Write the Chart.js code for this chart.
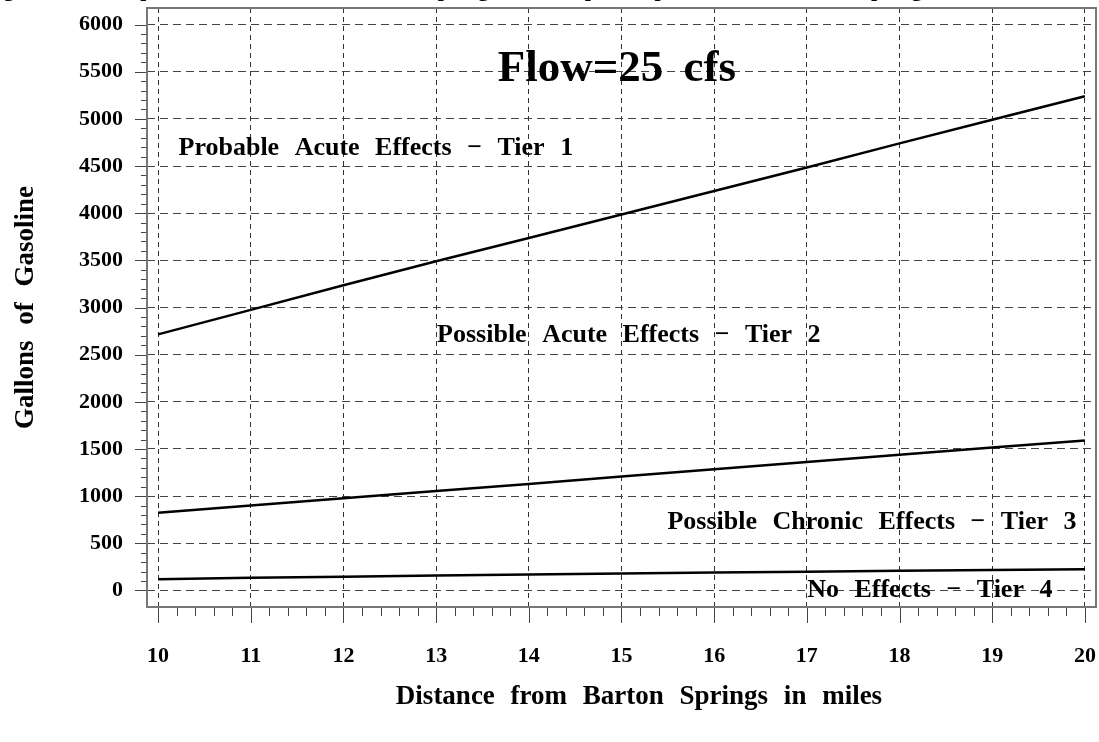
<!DOCTYPE html>
<html>
<head>
<meta charset="utf-8">
<script src="https://cdn.jsdelivr.net/npm/chart.js@4.4.1/dist/chart.umd.min.js"></script>
<style>
  html, body { margin: 0; padding: 0; background: #fff; }
  #wrap { width: 1099px; height: 742px; }
</style>
</head>
<body>
<div id="wrap"><canvas id="chart" width="1099" height="742"></canvas></div>
<script>
// Data
const distances = [10, 11, 12, 13, 14, 15, 16, 17, 18, 19, 20];
const tier1Limit = [2715, 2975, 3235, 3490, 3736, 3985, 4235, 4485, 4740, 4990, 5240];
const tier2Limit = [824, 900, 977, 1054, 1130, 1208, 1286, 1363, 1440, 1515, 1590];
const tier3Limit = [120, 134, 147, 159, 170, 181, 191, 200, 209, 217, 225];
const xTickValues = [10, 11, 12, 13, 14, 15, 16, 17, 18, 19, 20];
const yTickValues = [0, 500, 1000, 1500, 2000, 2500, 3000, 3500, 4000, 4500, 5000, 5500, 6000];
const zoneLabels = [
  "Probable Acute Effects − Tier 1",
  "Possible Acute Effects − Tier 2",
  "Possible Chronic Effects − Tier 3",
  "No Effects − Tier 4"
];
const flowLabel = "Flow=25 cfs";
const xTitle = "Distance from Barton Springs in miles";
const figureTitle = "Figure 3.  Response Distances to Barton Springs from Spills Upstream of Barton Springs";

const SERIF = '"Liberation Serif", "DejaVu Serif", serif';
Chart.defaults.font.family = SERIF;
Chart.defaults.font.weight = 'bold';
Chart.defaults.color = '#000';

function lineSet(data) {
  return {
    data: distances.map((d, i) => ({ x: d, y: data[i] })),
    borderColor: '#000',
    borderWidth: 2.5,
    pointRadius: 0,
    tension: 0,
    fill: false
  };
}

// no extra room for edge labels: the frame fills the page
function fixBox(s, size) {
  if (s.isHorizontal()) s.height = size; else s.width = size;
  s.paddingTop = s.paddingBottom = s.paddingLeft = s.paddingRight = 0;
}

// wider gaps between words, like the original
const spacing = {
  id: 'spacing',
  beforeDraw(chart) {
    chart.ctx.wordSpacing = '9px';
  }
};

// minor/major tick marks outside the frame, the frame, caption and x title
const frameAndTicks = {
  id: 'frameAndTicks',
  afterDraw(chart) {
    const ctx = chart.ctx;
    const a = chart.chartArea;
    const xs = chart.scales.x, ys = chart.scales.y;
    ctx.save();
    ctx.strokeStyle = '#444';
    ctx.lineWidth = 1;
    ctx.beginPath();
    for (let k = 50; k <= 100; k++) {
      const px = Math.round(xs.getPixelForValue(k / 5)) + 0.5;
      const len = k % 5 === 0 ? 16 : 9;
      ctx.moveTo(px, a.bottom);
      ctx.lineTo(px, a.bottom + len);
    }
    for (let k = 0; k <= 60; k++) {
      const py = Math.round(ys.getPixelForValue(k * 100)) + 0.5;
      const len = k % 5 === 0 ? 12 : 6;
      ctx.moveTo(a.left, py);
      ctx.lineTo(a.left - len, py);
    }
    ctx.stroke();
    ctx.strokeStyle = '#777';
    ctx.lineWidth = 2;
    ctx.strokeRect(a.left, a.top, a.right - a.left, a.bottom - a.top);

    ctx.fillStyle = '#000';
    ctx.font = 'bold 27px ' + SERIF;
    ctx.textAlign = 'center';
    ctx.textBaseline = 'middle';
    ctx.fillText(xTitle, 639, 697);

    // figure caption, cut off by the top edge
    ctx.font = 'bold 22px ' + SERIF;
    ctx.textAlign = 'left';
    ctx.textBaseline = 'alphabetic';
    ctx.fillText(figureTitle, -16, -4);
    ctx.restore();
  }
};

// zone labels placed in data coordinates
const zoneText = {
  id: 'zoneText',
  afterDatasetsDraw(chart) {
    const ctx = chart.ctx;
    const xs = chart.scales.x, ys = chart.scales.y;
    ctx.save();
    ctx.fillStyle = '#000';
    ctx.textBaseline = 'middle';

    ctx.font = 'bold 45px ' + SERIF;
    ctx.textAlign = 'center';
    ctx.fillText(flowLabel, xs.getPixelForValue(14.95), ys.getPixelForValue(5520));

    ctx.font = 'bold 26px ' + SERIF;
    ctx.textAlign = 'left';
    ctx.fillText(zoneLabels[0], xs.getPixelForValue(10.22), ys.getPixelForValue(4690));
    ctx.fillText(zoneLabels[1], xs.getPixelForValue(13.01), ys.getPixelForValue(2710));
    ctx.textAlign = 'right';
    ctx.fillText(zoneLabels[2], xs.getPixelForValue(19.91), ys.getPixelForValue(720));
    ctx.fillText(zoneLabels[3], xs.getPixelForValue(19.65), ys.getPixelForValue(5));
    ctx.restore();
  }
};

new Chart(document.getElementById('chart'), {
  type: 'line',
  data: {
    datasets: [lineSet(tier1Limit), lineSet(tier2Limit), lineSet(tier3Limit)]
  },
  options: {
    responsive: false,
    animation: false,
    devicePixelRatio: 1,
    layout: { padding: { top: 8, right: 3, left: 0, bottom: 0 } },
    plugins: {
      legend: { display: false },
      tooltip: { enabled: false }
    },
    scales: {
      x: {
        type: 'linear',
        min: 9.88,
        max: 20.12,
        afterBuildTicks: s => { s.ticks = xTickValues.map(v => ({ value: v })); },
        afterFit: s => fixBox(s, 135),
        ticks: {
          font: { size: 22, weight: 'bold' },
          color: '#000',
          padding: 36,
          maxRotation: 0,
          callback: v => v
        },
        grid: { color: '#333', lineWidth: 1, drawTicks: false },
        border: { display: false, dash: [5, 4] },
        title: { display: false }
      },
      y: {
        type: 'linear',
        min: -175,
        max: 6175,
        afterBuildTicks: s => { s.ticks = yTickValues.map(v => ({ value: v })); },
        afterFit: s => fixBox(s, 147),
        ticks: {
          font: { size: 22, weight: 'bold' },
          color: '#000',
          padding: 24,
          callback: v => v
        },
        grid: { color: '#444', lineWidth: 1, drawTicks: false },
        border: { display: false, dash: [8, 5] },
        title: {
          display: true,
          text: 'Gallons of Gasoline',
          font: { size: 27, weight: 'bold' },
          color: '#000',
          padding: { top: 10, bottom: 0 }
        }
      }
    }
  },
  plugins: [spacing, zoneText, frameAndTicks]
});
</script>
</body>
</html>
